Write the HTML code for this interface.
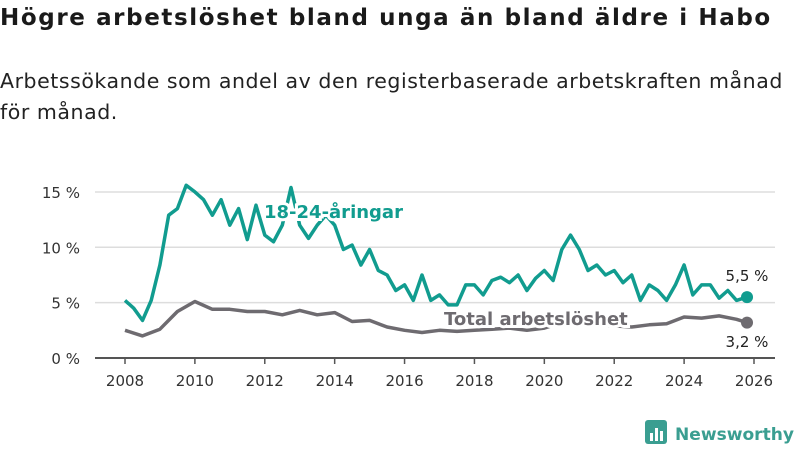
<!DOCTYPE html>
<html><head><meta charset="utf-8"><style>
body{margin:0;width:800px;height:450px;background:#fff;font-family:"DejaVu Sans",sans-serif;overflow:hidden;position:relative}
h1{position:absolute;left:0;top:5px;margin:0;font-size:23px;font-weight:bold;color:#1a1a1a;letter-spacing:1.6px;white-space:nowrap}
p{position:absolute;left:0;top:66px;margin:0;font-size:20.5px;line-height:31px;color:#222;width:795px;letter-spacing:0.55px}
svg{position:absolute;left:0;top:0}
</style></head><body>
<h1>Högre arbetslöshet bland unga än bland äldre i Habo</h1>
<p>Arbetssökande som andel av den registerbaserade arbetskraften månad för månad.</p>
<svg width="800" height="450" id="chart" font-family="DejaVu Sans, sans-serif"></svg>
<script>
const yTicks=[0,5,10,15];
const xTicks=[2008,2010,2012,2014,2016,2018,2020,2022,2024,2026];
const youthT=[2008,2008.25,2008.5,2008.75,2009,2009.25,2009.5,2009.75,2010,2010.25,2010.5,2010.75,2011,2011.25,2011.5,2011.75,2012,2012.25,2012.5,2012.75,2013,2013.25,2013.5,2013.75,2014,2014.25,2014.5,2014.75,2015,2015.25,2015.5,2015.75,2016,2016.25,2016.5,2016.75,2017,2017.25,2017.5,2017.75,2018,2018.25,2018.5,2018.75,2019,2019.25,2019.5,2019.75,2020,2020.25,2020.5,2020.75,2021,2021.25,2021.5,2021.75,2022,2022.25,2022.5,2022.75,2023,2023.25,2023.5,2023.75,2024,2024.25,2024.5,2024.75,2025,2025.25,2025.5,2025.8];
const youthV=[5.2,4.5,3.4,5.2,8.4,12.9,13.5,15.6,15.0,14.3,12.9,14.3,12.0,13.5,10.7,13.8,11.1,10.5,12.0,15.4,12.0,10.8,12.0,12.9,12.0,9.8,10.2,8.4,9.8,7.9,7.5,6.1,6.6,5.2,7.5,5.2,5.7,4.8,4.8,6.6,6.6,5.7,7.0,7.3,6.8,7.5,6.1,7.2,7.9,7.0,9.8,11.1,9.8,7.9,8.4,7.5,7.9,6.8,7.5,5.2,6.6,6.1,5.2,6.6,8.4,5.7,6.6,6.6,5.4,6.1,5.2,5.5];
const totalT=[2008,2008.5,2009,2009.5,2010,2010.5,2011,2011.5,2012,2012.5,2013,2013.5,2014,2014.5,2015,2015.5,2016,2016.5,2017,2017.5,2018,2018.5,2019,2019.5,2020,2020.5,2021,2021.5,2022,2022.5,2023,2023.5,2024,2024.5,2025,2025.5,2025.8];
const totalV=[2.5,2.0,2.6,4.2,5.1,4.4,4.4,4.2,4.2,3.9,4.3,3.9,4.1,3.3,3.4,2.8,2.5,2.3,2.5,2.4,2.5,2.6,2.7,2.5,2.7,3.2,3.3,3.0,2.9,2.8,3.0,3.1,3.7,3.6,3.8,3.5,3.2];
const svg=document.getElementById('chart');const NS='http://www.w3.org/2000/svg';
const x=t=>125+(t-2008)*(629/18);const y=v=>358-v*11.07;
function mk(tag,at){const e=document.createElementNS(NS,tag);for(const k in at)e.setAttribute(k,at[k]);svg.appendChild(e);return e;}
yTicks.forEach(v=>{
 const g=mk('line',{x1:95,x2:775,y1:y(v),y2:y(v),stroke:v?'#dddddd':'#555',"stroke-width":v?1.5:2});
 
 
 const t=mk('text',{x:80,y:y(v)+6,"text-anchor":"end","font-size":15,fill:'#333'});t.textContent=v+' %';
 
 
});
xTicks.forEach(v=>{
 const l=mk('line',{x1:x(v),x2:x(v),y1:358,y2:364,stroke:'#555',"stroke-width":1.5});
 
 
 const t=mk('text',{x:x(v),y:386,"text-anchor":"middle","font-size":15,fill:'#333'});t.textContent=v;
 
 
});
function line(T,V,c,name){const d=T.map((t,i)=>(i?'L':'M')+x(t).toFixed(1)+' '+y(V[i]).toFixed(1)).join('');
 const p=mk('path',{d:d,fill:'none',stroke:c,"stroke-width":3.5,"stroke-linejoin":"round"});
 
 
 const dot=mk('circle',{cx:x(T[T.length-1]),cy:y(V[V.length-1]),r:6,fill:c});
 
 }
line(totalT,totalV,'#6e6b70','total-line');
line(youthT,youthV,'#119c8f','youth-line');
function lab(tx,xx,yy,c,sz,w,name,anchor){const t=mk('text',{x:xx,y:yy,"font-size":sz,"font-weight":w,fill:c,stroke:'#fff',"stroke-width":w=='bold'?6:0,"paint-order":"stroke","text-anchor":anchor||'start'});t.textContent=tx;
 
 }
lab('18-24-åringar',264,218,'#119c8f',18,'bold','youth-series-label');
lab('Total arbetslöshet',444,325,'#6e6b70',18,'bold','total-series-label');
lab('5,5 %',747,281,'#222',15,'normal','youth-end-value','middle');
lab('3,2 %',747,347,'#222',15,'normal','total-end-value','middle');
const lg=mk('g',{});
const r=document.createElementNS(NS,'rect');r.setAttribute('x',645);r.setAttribute('y',420);r.setAttribute('width',22);r.setAttribute('height',24);r.setAttribute('rx',3);r.setAttribute('fill','#3a9e91');lg.appendChild(r);
[[650,433,3,8],[655,428,3,13],[660,431,3,10]].forEach(b=>{const e=document.createElementNS(NS,'rect');e.setAttribute('x',b[0]);e.setAttribute('y',b[1]);e.setAttribute('width',b[2]);e.setAttribute('height',b[3]);e.setAttribute('fill','#fff');lg.appendChild(e);});
const lt=document.createElementNS(NS,'text');lt.setAttribute('x',675);lt.setAttribute('y',440);lt.setAttribute('font-size',17);lt.setAttribute('font-weight','bold');lt.setAttribute('fill','#3a9e91');lt.setAttribute('textLength',119);lt.setAttribute('lengthAdjust','spacingAndGlyphs');lt.textContent='Newsworthy';lg.appendChild(lt);
</script>
</body></html>
